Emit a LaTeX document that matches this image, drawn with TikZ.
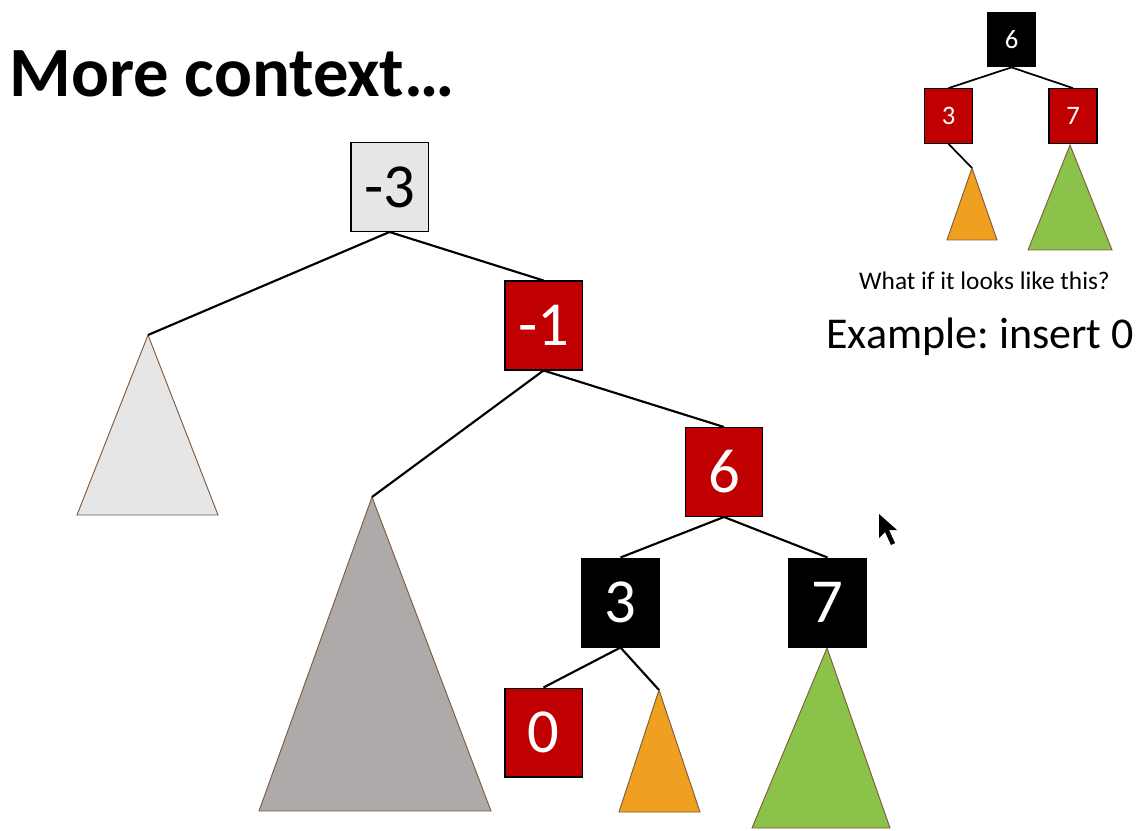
\documentclass[tikz,border=0pt]{standalone}
\usepackage{fontspec}
\setmainfont{Carlito}
\frenchspacing
\definecolor{rbred}{HTML}{C00000}
\definecolor{lgray}{HTML}{E7E6E6}
\definecolor{mgray}{HTML}{AEAAAA}
\definecolor{orng}{HTML}{F0A020}
\definecolor{grn}{HTML}{8BC34A}
\definecolor{tribord}{HTML}{7F5A3C}
\tikzset{
  bigbox/.style={draw=black, line width=1pt, minimum width=58pt, minimum height=66.5pt, inner sep=0pt, font=\fontsize{47}{47}\selectfont},
  smallbox/.style={draw=black, line width=0.8pt, minimum width=36pt, minimum height=41pt, inner sep=0pt, font=\fontsize{20}{20}\selectfont},
  redn/.style={fill=rbred, text=white},
  blackn/.style={fill=black, text=white},
  grayn/.style={fill=lgray, text=black},
  edge/.style={draw=black, line width=1.6pt},
  tri/.style={draw=tribord, line width=0.7pt},
}
\begin{document}
\begin{tikzpicture}[x=0.75pt,y=-0.75pt]
\useasboundingbox (0,0) rectangle (1147,831);
% title
\node[anchor=base west, inner sep=0pt, font=\fontsize{53}{53}\selectfont\bfseries] (title) at (9,97) {More context\dots};
% triangles
\coordinate (tL) at (148,335);
\coordinate (tG) at (372,497);
\coordinate (tO) at (659,690);
\coordinate (tGr) at (827,648);
\filldraw[tri, fill=lgray] (tL) -- (77,515) -- (218,515) -- cycle;
\filldraw[tri, fill=mgray] (tG) -- (259,811) -- (491,811) -- cycle;
\filldraw[tri, fill=orng] (tO) -- (619,812) -- (700,812) -- cycle;
\filldraw[tri, fill=grn] (tGr) -- (752,828) -- (890,828) -- cycle;
% nodes
\node[bigbox, grayn] (m3) at (389.5,187) {-3};
\node[bigbox, redn] (m1) at (543.5,325.5) {-1};
\node[bigbox, redn] (s6) at (724,472) {6};
\node[bigbox, blackn] (b3) at (620.5,602.5) {3};
\node[bigbox, blackn] (b7) at (827.5,602.5) {7};
\node[bigbox, redn] (z0) at (543.5,732.5) {0};
% edges
\draw[edge] (m3.south) -- (tL);
\draw[edge] (m3.south) -- (m1.north);
\draw[edge] (m1.south) -- (tG);
\draw[edge] (m1.south) -- (s6.north);
\draw[edge] (s6.south) -- (b3.north);
\draw[edge] (s6.south) -- (b7.north);
\draw[edge] (b3.south) -- (z0.north);
\draw[edge] (b3.south) -- (tO);
% small tree
\coordinate (so) at (972,168);
\coordinate (sg) at (1070,145);
\filldraw[tri, fill=orng] (so) -- (947,240) -- (997,240) -- cycle;
\filldraw[tri, fill=grn] (sg) -- (1028,250) -- (1112,250) -- cycle;
\node[smallbox, blackn] (k6) at (1011.5,39.5) {6};
\node[smallbox, redn] (k3) at (948.5,116) {3};
\node[smallbox, redn] (k7) at (1073,116) {7};
\draw[edge, line width=1.3pt] (k6.south) -- (k3.north);
\draw[edge, line width=1.3pt] (k6.south) -- (k7.north);
\draw[edge, line width=1.3pt] (k3.south) -- (so);
\node[font=\fontsize{19}{19}\selectfont, inner sep=0pt] (q) at (984.5,281) {What if it looks like this?};
\node[font=\fontsize{33}{33}\selectfont, inner sep=0pt] (ex) at (980,337) {Example: insert 0};
% cursor
\fill[black] (879,514) -- (879,538) -- (885,532) -- (891,545) -- (895,543) -- (889,530) -- (897,530) -- cycle;
\end{tikzpicture}
\end{document}
